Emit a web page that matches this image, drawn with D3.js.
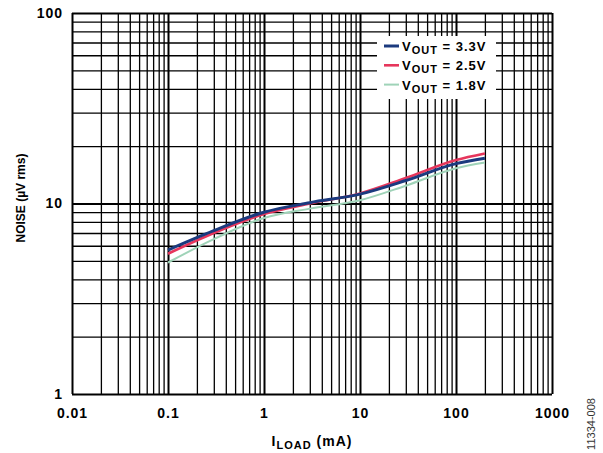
<!DOCTYPE html>
<html>
<head>
<meta charset="utf-8">
<script src="https://cdn.jsdelivr.net/npm/d3@7/dist/d3.min.js"></script>
<style>
body{margin:0;background:#fff;}
svg{display:block;}
.lbl text{font-family:"Liberation Sans",Arial,sans-serif;font-weight:bold;font-size:14px;letter-spacing:1px;fill:#000;}
</style>
</head>
<body>
<div id="chart"></div>
<script>
// load current (mA)
var loads = [0.1, 0.3, 1, 3, 10, 30, 100, 200];
var series = [
    {name:"3.3V", color:"#1b3a7e", width:3, values:[5.7, 7.2, 9.0, 10.1, 11.2, 13.2, 16.2, 17.3]},
    {name:"2.5V", color:"#e6365c", width:2.6, values:[5.45, 7.0, 8.8, 10.0, 11.3, 13.6, 16.9, 18.3]},
    {name:"1.8V", color:"#9fd3b8", width:2, values:[4.9, 6.5, 8.4, 9.4, 10.4, 12.4, 15.3, 16.4]}
];
var xTicks = [0.01, 0.1, 1, 10, 100, 1000];
var yTicks = [1, 10, 100];

var W = 603, H = 453;
var margin = {left:72, top:13, right:51, bottom:59};
var w = W-margin.left-margin.right, h = H-margin.top-margin.bottom;
var font = '"Liberation Sans",Arial,sans-serif';

var svg = d3.select('#chart').append('svg').attr('width',W).attr('height',H);
var g = svg.append('g').attr('transform','translate('+margin.left+','+margin.top+')');

var x = d3.scaleLog().domain([0.01,1000]).range([0,w]);
var y = d3.scaleLog().domain([1,100]).range([h,0]);

function minors(dec){
    var out = [];
    for(var i=0;i<dec.length-1;i++){
        for(var k=2;k<=9;k++) out.push(dec[i]*k);
    }
    return out;
}

function gridStyle(sw){
    return function(s){
        s.select('.domain').remove();
        s.selectAll('line').attr('stroke','#000').attr('stroke-width',sw);
    };
}

// minor grid
g.append('g').attr('transform','translate(0,'+h+')')
    .call(d3.axisBottom(x).tickValues(minors(xTicks)).tickSize(-h).tickFormat(''))
    .call(gridStyle(1.3));
g.append('g')
    .call(d3.axisLeft(y).tickValues(minors(yTicks)).tickSize(-w).tickFormat(''))
    .call(gridStyle(1.3));
// decade grid
g.append('g').attr('transform','translate(0,'+h+')')
    .call(d3.axisBottom(x).tickValues(xTicks).tickSize(-h).tickFormat(''))
    .call(gridStyle(2));
g.append('g')
    .call(d3.axisLeft(y).tickValues(yTicks).tickSize(-w).tickFormat(''))
    .call(gridStyle(2));

// tick labels
g.append('g').attr('class','lbl').attr('transform','translate(0,'+h+')')
    .call(d3.axisBottom(x).tickValues(xTicks).tickSize(0).tickPadding(14).tickFormat(function(d){return String(d);}))
    .call(function(s){s.select('.domain').remove();s.selectAll('text').attr('font-size',null).attr('font-family',null);});
g.append('g').attr('class','lbl')
    .call(d3.axisLeft(y).tickValues(yTicks).tickSize(0).tickPadding(9).tickFormat(function(d){return String(d);}))
    .call(function(s){s.select('.domain').remove();s.selectAll('text').attr('font-size',null).attr('font-family',null);});

// curves
var line = d3.line()
    .x(function(d){return x(d[0]);})
    .y(function(d){return y(d[1]);})
    .curve(d3.curveMonotoneX);

series.slice().reverse().forEach(function(s){
    g.append('path')
        .datum(loads.map(function(l,i){return [l,s.values[i]];}))
        .attr('fill','none')
        .attr('stroke',s.color)
        .attr('stroke-width',s.width)
        .attr('d',line);
});

// legend
var leg = svg.append('g').attr('transform','translate(377,36)');
leg.append('rect').attr('width',119).attr('height',63).attr('fill','#fff');
series.forEach(function(s,i){
    var ly = 10+i*19.3;
    leg.append('line').attr('x1',7).attr('x2',22).attr('y1',ly).attr('y2',ly)
        .attr('stroke',s.color).attr('stroke-width',s.width);
    var t = leg.append('text').attr('x',25).attr('y',ly+5)
        .attr('font-family',font).attr('letter-spacing','1px')
        .attr('font-weight','bold').attr('font-size','13px');
    t.append('tspan').text('V');
    t.append('tspan').attr('dy',3).attr('font-size','11px').text('OUT');
    t.append('tspan').attr('dy',-3).text(' = '+s.name);
});

// axis titles
var xt = svg.append('text').attr('x',margin.left+w/2).attr('y',446)
    .attr('text-anchor','middle')
    .attr('font-family',font).attr('letter-spacing','1px')
    .attr('font-weight','bold').attr('font-size','14px');
xt.append('tspan').text('I');
xt.append('tspan').attr('dy',3).attr('font-size','11px').text('LOAD');
xt.append('tspan').attr('dy',-3).text(' (mA)');

svg.append('text')
    .attr('transform','translate(25,198) rotate(-90)')
    .attr('text-anchor','middle')
    .attr('font-family',font)
    .attr('font-weight','bold').attr('font-size','12px')
    .text('NOISE (\u00b5V rms)');

svg.append('text')
    .attr('transform','translate(595,424) rotate(-90)')
    .attr('text-anchor','middle')
    .attr('font-family',font)
    .attr('font-size','11px').attr('fill','#333')
    .text('11334-008');
</script>
</body>
</html>
